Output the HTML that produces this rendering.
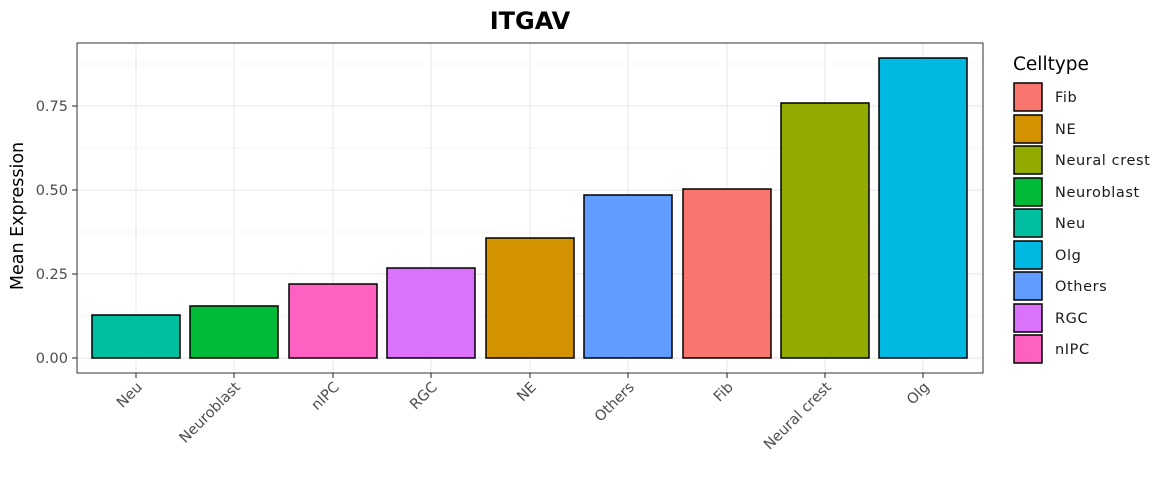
<!DOCTYPE html>
<html><head><style>body{margin:0;background:#fff}svg{display:block;font-family:"DejaVu Sans",sans-serif}</style></head><body>
<svg width="1170" height="494" xmlns="http://www.w3.org/2000/svg">
<rect width="1170" height="494" fill="#fff"/>
<text x="530" y="29" text-anchor="middle" font-size="24" font-weight="bold">ITGAV</text>
<g stroke="#ebebeb" stroke-width="0.6">
<line x1="77" x2="983" y1="316" y2="316"/><line x1="77" x2="983" y1="232" y2="232"/><line x1="77" x2="983" y1="148" y2="148"/><line x1="77" x2="983" y1="64" y2="64"/>
</g>
<g stroke="#ebebeb" stroke-width="1.2">
<line x1="77" x2="983" y1="358" y2="358"/><line x1="77" x2="983" y1="274" y2="274"/><line x1="77" x2="983" y1="190" y2="190"/><line x1="77" x2="983" y1="106" y2="106"/>
<line x1="136" x2="136" y1="43" y2="373"/><line x1="234" x2="234" y1="43" y2="373"/><line x1="333" x2="333" y1="43" y2="373"/><line x1="431" x2="431" y1="43" y2="373"/><line x1="530" x2="530" y1="43" y2="373"/><line x1="628" x2="628" y1="43" y2="373"/><line x1="727" x2="727" y1="43" y2="373"/><line x1="825" x2="825" y1="43" y2="373"/><line x1="923" x2="923" y1="43" y2="373"/>
</g>
<g stroke="#000" stroke-width="1.5">
<rect x="92" y="315" width="88" height="43" fill="#00BFA0"/>
<rect x="190" y="306" width="88" height="52" fill="#00BA38"/>
<rect x="289" y="284" width="88" height="74" fill="#FF61C3"/>
<rect x="387" y="268" width="88" height="90" fill="#DB72FB"/>
<rect x="486" y="238" width="88" height="120" fill="#D39200"/>
<rect x="584" y="195" width="88" height="163" fill="#619CFF"/>
<rect x="683" y="189" width="88" height="169" fill="#F8766D"/>
<rect x="781" y="103" width="88" height="255" fill="#93AA00"/>
<rect x="879" y="58" width="88" height="300" fill="#00B9E3"/>
</g>
<rect x="77" y="43" width="906" height="330" fill="none" stroke="#333" stroke-width="1"/>
<g stroke="#333" stroke-width="1.1">
<line x1="72" x2="77" y1="358" y2="358"/><line x1="72" x2="77" y1="274" y2="274"/><line x1="72" x2="77" y1="190" y2="190"/><line x1="72" x2="77" y1="106" y2="106"/>
<line x1="136" x2="136" y1="373" y2="378"/><line x1="234" x2="234" y1="373" y2="378"/><line x1="333" x2="333" y1="373" y2="378"/><line x1="431" x2="431" y1="373" y2="378"/><line x1="530" x2="530" y1="373" y2="378"/><line x1="628" x2="628" y1="373" y2="378"/><line x1="727" x2="727" y1="373" y2="378"/><line x1="825" x2="825" y1="373" y2="378"/><line x1="923" x2="923" y1="373" y2="378"/>
</g>
<g font-size="14.5" fill="#4d4d4d" text-anchor="end">
<text x="68" y="363">0.00</text><text x="68" y="279">0.25</text><text x="68" y="195">0.50</text><text x="68" y="111">0.75</text>
<text transform="translate(143,388) rotate(-45)">Neu</text>
<text transform="translate(241,388) rotate(-45)">Neuroblast</text>
<text transform="translate(340,388) rotate(-45)">nIPC</text>
<text transform="translate(438,388) rotate(-45)">RGC</text>
<text transform="translate(537,388) rotate(-45)">NE</text>
<text transform="translate(635,388) rotate(-45)">Others</text>
<text transform="translate(734,388) rotate(-45)">Fib</text>
<text transform="translate(832,388) rotate(-45)">Neural crest</text>
<text transform="translate(930,388) rotate(-45)">Olg</text>
</g>
<text transform="translate(23,216) rotate(-90)" text-anchor="middle" font-size="17.5">Mean Expression</text>
<text x="1013" y="70" font-size="18.5">Celltype</text>
<g stroke="#000" stroke-width="1.5">
<rect x="1014" y="83" width="28" height="28" fill="#F8766D"/>
<rect x="1014" y="115" width="28" height="28" fill="#D39200"/>
<rect x="1014" y="146" width="28" height="28" fill="#93AA00"/>
<rect x="1014" y="178" width="28" height="28" fill="#00BA38"/>
<rect x="1014" y="209" width="28" height="28" fill="#00BFA0"/>
<rect x="1014" y="241" width="28" height="28" fill="#00B9E3"/>
<rect x="1014" y="272" width="28" height="28" fill="#619CFF"/>
<rect x="1014" y="304" width="28" height="28" fill="#DB72FB"/>
<rect x="1014" y="335" width="28" height="28" fill="#FF61C3"/>
</g>
<g font-size="14.5" fill="#1a1a1a" letter-spacing="0.6">
<text x="1055" y="102">Fib</text><text x="1055" y="134">NE</text><text x="1055" y="165">Neural crest</text><text x="1055" y="197">Neuroblast</text><text x="1055" y="228">Neu</text><text x="1055" y="260">Olg</text><text x="1055" y="291">Others</text><text x="1055" y="323">RGC</text><text x="1055" y="354">nIPC</text>
</g>
</svg>
</body></html>
